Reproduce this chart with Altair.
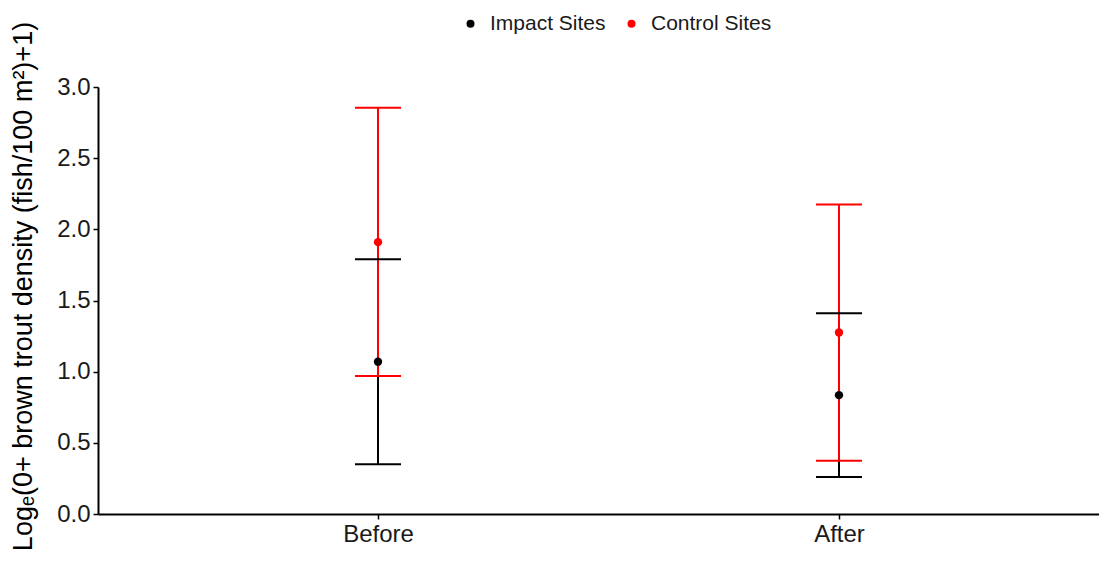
import altair as alt
import pandas as pd

periods = ["Before", "Before", "After", "After"]
sites = ["Impact Sites", "Control Sites", "Impact Sites", "Control Sites"]
means = [1.07, 1.91, 0.835, 1.275]
lowers = [0.35, 0.97, 0.26, 0.375]
uppers = [1.79, 2.855, 1.41, 2.175]

period_order = ["Before", "After"]
site_order = ["Impact Sites", "Control Sites"]
site_colors = ["#000000", "#ff0000"]

df = pd.DataFrame({"period": periods, "site": sites, "mean": means,
                   "lower": lowers, "upper": uppers})

FONT = "Liberation Sans"

x_enc = alt.X("period:N", sort=period_order,
              scale=alt.Scale(type="point", domain=period_order, padding=0.5857, align=0.5185),
              axis=alt.Axis(title=None, labelAngle=0, labelFontSize=24, labelFont=FONT,
                            labelColor="#1a1a1a", labelPadding=3, tickSize=5,
                            tickColor="#000", domainColor="#000", domainWidth=2, tickWidth=1.5,
                            grid=False))
y_title = "Logₑ(0+ brown trout density (fish/100 m²)+1)"
y_scale = alt.Scale(domain=[0, 3], nice=False, zero=True)
y_axis = alt.Axis(title=y_title, values=[0, 0.5, 1, 1.5, 2, 2.5, 3], format=".1f",
                  grid=False, labelFontSize=24, labelFont=FONT, labelColor="#1a1a1a",
                  labelPadding=3, tickSize=5, tickColor="#000", domainColor="#000",
                  domainWidth=2, tickWidth=1.5, titleFont=FONT, titleFontSize=27,
                  titleFontWeight="normal", titleColor="#000", titlePadding=19, titleY=199)
color_enc = alt.Color("site:N", sort=site_order,
                      scale=alt.Scale(domain=site_order, range=site_colors),
                      legend=alt.Legend(title=None, orient="none", direction="horizontal",
                                        legendX=362, legendY=-74, symbolType="circle",
                                        symbolSize=64, symbolStrokeWidth=0, symbolOpacity=1,
                                        labelFontSize=21, labelFont=FONT, labelColor="#1a1a1a",
                                        labelOffset=9, columnPadding=15))

base = alt.Chart(df)

stems = base.mark_rule(strokeWidth=2, opacity=1).encode(
    x=x_enc, y=alt.Y("lower:Q", scale=y_scale, axis=y_axis), y2="upper:Q", color=color_enc)
caps_lo = base.mark_tick(size=46, thickness=2, opacity=1).encode(
    x=x_enc, y=alt.Y("lower:Q", scale=y_scale), color=color_enc)
caps_hi = base.mark_tick(size=46, thickness=2, opacity=1).encode(
    x=x_enc, y=alt.Y("upper:Q", scale=y_scale), color=color_enc)
points = base.mark_circle(size=70, opacity=1).encode(
    x=x_enc, y=alt.Y("mean:Q", scale=y_scale), color=color_enc)

chart = alt.layer(stems, caps_lo, caps_hi, points).properties(
    width=1001, height=427,
    background="white",
    autosize=alt.AutoSizeParams(type="none"),
    padding={"left": 90, "top": 79, "right": 0, "bottom": 45},
).configure_view(stroke=None)

chart.save("out.html", embed_options={"renderer": "svg", "actions": False})
